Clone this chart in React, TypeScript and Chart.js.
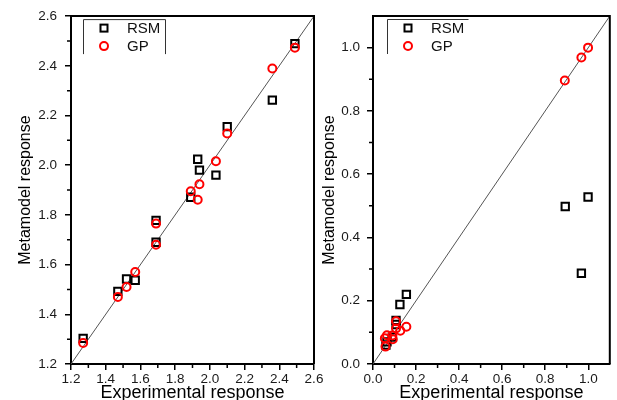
import React, { useEffect, useRef } from 'react';
import { Chart, registerables } from 'chart.js';

Chart.register(...registerables);

// ---------- data ----------
const seriesNames = ['RSM', 'GP'];
const xTitle = 'Experimental response';
const yTitle = 'Metamodel response';

// left panel
const leftRange = [1.2, 2.6];
const leftTicks = [1.2, 1.4, 1.6, 1.8, 2.0, 2.2, 2.4, 2.6];
const leftExperimental = [1.27, 1.47, 1.52, 1.57, 1.69, 1.69, 1.89, 1.93, 1.94, 2.035, 2.1, 2.36, 2.49];
const leftRSM = [1.303, 1.492, 1.542, 1.537, 1.69, 1.778, 1.871, 2.024, 1.98, 1.96, 2.155, 2.262, 2.489];
const leftGP = [1.285, 1.47, 1.51, 1.57, 1.68, 1.765, 1.895, 1.861, 1.923, 2.016, 2.128, 2.389, 2.473];

// right panel
const rightRange = [0, 1.1];
const rightTicks = [0.0, 0.2, 0.4, 0.6, 0.8, 1.0];
const rightExpRSM = [0.06, 0.065, 0.09, 0.107, 0.107, 0.125, 0.155, 0.893, 0.968, 0.999];
const rightRSM = [0.06, 0.07, 0.085, 0.125, 0.138, 0.188, 0.22, 0.498, 0.287, 0.528];
const rightExpGP = [0.058, 0.055, 0.065, 0.092, 0.09, 0.107, 0.107, 0.127, 0.155, 0.891, 0.968, 0.999];
const rightGP = [0.055, 0.081, 0.091, 0.078, 0.09, 0.112, 0.135, 0.105, 0.118, 0.896, 0.969, 1.0];

const FONT = '"Liberation Sans", Arial, sans-serif';

const framePlugin = {
  id: 'frame',
  afterDraw(chart: any, _args: any, opts: any) {
    const { ctx, chartArea: a, scales } = chart;
    ctx.save();
    ctx.strokeStyle = '#000';
    ctx.lineWidth = 2;
    ctx.beginPath();
    ctx.moveTo(a.left, a.top);
    ctx.lineTo(a.right, a.top);
    ctx.lineTo(a.right, a.bottom);
    ctx.stroke();

    // minor ticks
    ctx.lineWidth = 1.5;
    const ticks: number[] = opts.ticks;
    for (let i = 0; i < ticks.length - 1; i++) {
      const v = (ticks[i] + ticks[i + 1]) / 2;
      const px = scales.x.getPixelForValue(v);
      const py = scales.y.getPixelForValue(v);
      ctx.beginPath();
      ctx.moveTo(px, a.bottom);
      ctx.lineTo(px, a.bottom + 4);
      ctx.moveTo(a.left - 4, py);
      ctx.lineTo(a.left, py);
      ctx.stroke();
    }

    // legend
    const bx = a.left + opts.legendDx;
    const by = a.top + 3;
    const bw = opts.legendW;
    const bh = 35;
    ctx.strokeStyle = '#333';
    ctx.lineWidth = 1;
    ctx.beginPath();
    ctx.moveTo(bx + 0.5, by + bh);
    ctx.lineTo(bx + 0.5, by + 0.5);
    ctx.lineTo(bx + bw + 0.5, by + 0.5);
    if (opts.legendRight) ctx.lineTo(bx + bw + 0.5, by + bh);
    ctx.stroke();

    const rows = [by + 9, by + 27];
    ctx.font = '15px ' + FONT;
    ctx.textBaseline = 'middle';
    ctx.textAlign = 'left';
    ctx.fillStyle = '#111';
    seriesNames.forEach((name, i) => {
      const sx = bx + 21;
      const sy = rows[i];
      ctx.lineWidth = 2;
      if (i === 0) {
        ctx.strokeStyle = '#000';
        ctx.strokeRect(sx - 3.5, sy - 3.5, 7, 7);
      } else {
        ctx.strokeStyle = '#ff0000';
        ctx.beginPath();
        ctx.arc(sx, sy, 4, 0, Math.PI * 2);
        ctx.stroke();
      }
      ctx.fillText(name, bx + 44, sy + 1);
    });
    ctx.restore();
  },
};

function makeConfig(p: any) {
  const tickFont = { family: FONT, size: 13.5 };
  return {
    type: 'scatter',
    data: {
      datasets: [
        {
          type: 'line',
          data: [
            { x: p.range[0], y: p.range[0] },
            { x: p.range[1], y: p.range[1] },
          ],
          borderColor: '#555',
          borderWidth: 1,
          pointRadius: 0,
          showLine: true,
          order: 3,
        },
        {
          label: seriesNames[0],
          data: p.rsmX.map((x: number, i: number) => ({ x, y: p.rsmY[i] })),
          pointStyle: 'rect',
          pointRadius: 5.2,
          borderColor: '#000',
          backgroundColor: 'rgba(0,0,0,0)',
          borderWidth: 2,
          order: 2,
        },
        {
          label: seriesNames[1],
          data: p.gpX.map((x: number, i: number) => ({ x, y: p.gpY[i] })),
          pointStyle: 'circle',
          pointRadius: 4,
          borderColor: '#ff0000',
          backgroundColor: 'rgba(0,0,0,0)',
          borderWidth: 2,
          order: 1,
        },
      ],
    },
    options: {
      animation: false,
      responsive: false,
      events: [],
      layout: { padding: p.padding },
      plugins: {
        legend: { display: false },
        tooltip: { enabled: false },
        frame: { ticks: p.ticks, legendDx: p.legendDx, legendW: p.legendW, legendRight: p.legendRight },
      },
      scales: {
        x: {
          type: 'linear',
          min: p.range[0],
          max: p.range[1],
          afterBuildTicks: (s: any) => {
            s.ticks = p.ticks.map((v: number) => ({ value: v }));
          },
          afterFit: (s: any) => {
            s.height = 36;
          },
          ticks: {
            callback: (v: any) => Number(v).toFixed(1),
            font: tickFont,
            color: '#1a1a1a',
            padding: 1,
            maxRotation: 0,
            autoSkip: false,
          },
          grid: { drawOnChartArea: false, drawTicks: true, tickLength: 6, color: '#000', lineWidth: 1.5 },
          border: { display: true, color: '#000', width: 2 },
          title: {
            display: true,
            text: xTitle,
            color: '#000',
            font: { family: FONT, size: 18, lineHeight: 0.8 },
            padding: { top: 0, bottom: 0 },
          },
        },
        y: {
          type: 'linear',
          min: p.range[0],
          max: p.range[1],
          afterBuildTicks: (s: any) => {
            s.ticks = p.ticks.map((v: number) => ({ value: v }));
          },
          afterFit: (s: any) => {
            s.width = p.yWidth;
          },
          ticks: {
            callback: (v: any) => Number(v).toFixed(1),
            font: tickFont,
            color: '#1a1a1a',
            padding: p.yPad,
            autoSkip: false,
          },
          grid: { drawOnChartArea: false, drawTicks: true, tickLength: 6, color: '#000', lineWidth: 1.5 },
          border: { display: true, color: '#000', width: 2 },
          title: {
            display: true,
            text: yTitle,
            color: '#000',
            font: { family: FONT, size: 16, lineHeight: 1.2 },
            padding: { top: 16, bottom: 0 },
          },
        },
      },
    },
    plugins: [framePlugin],
  };
}

export default function App() {
  const leftRef = useRef<HTMLCanvasElement>(null);
  const rightRef = useRef<HTMLCanvasElement>(null);

  useEffect(() => {
    const left = new Chart(
      leftRef.current as HTMLCanvasElement,
      makeConfig({
        range: leftRange,
        ticks: leftTicks,
        rsmX: leftExperimental,
        rsmY: leftRSM,
        gpX: leftExperimental,
        gpY: leftGP,
        padding: { left: 0, top: 15, right: 303, bottom: 0 },
        yWidth: 71,
        yPad: 8,
        legendDx: 12,
        legendW: 82,
        legendRight: true,
      }) as any
    );
    const right = new Chart(
      rightRef.current as HTMLCanvasElement,
      makeConfig({
        range: rightRange,
        ticks: rightTicks,
        rsmX: rightExpRSM,
        rsmY: rightRSM,
        gpX: rightExpGP,
        gpY: rightGP,
        padding: { left: 304, top: 16, right: 1, bottom: 0 },
        yWidth: 69,
        yPad: 7,
        legendDx: 14,
        legendW: 81,
        legendRight: false,
      }) as any
    );
    return () => {
      left.destroy();
      right.destroy();
    };
  }, []);

  const style: React.CSSProperties = { position: 'absolute', left: 0, top: 0, width: 617, height: 400 };
  return (
    <div style={{ position: 'absolute', left: 0, top: 0, width: 617, height: 400, background: '#fff' }}>
      <canvas ref={leftRef} width={617} height={400} style={style} />
      <canvas ref={rightRef} width={617} height={400} style={style} />
    </div>
  );
}
